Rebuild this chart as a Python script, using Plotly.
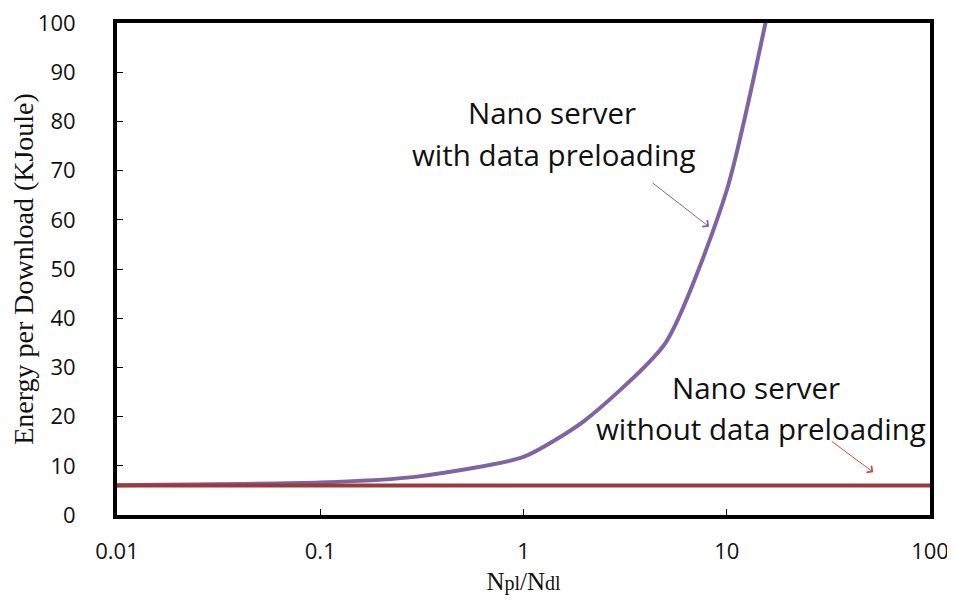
import plotly.graph_objects as go

# Data
ratio_with = [0.01, 0.1, 0.3, 1, 2, 5, 10, 20]
energy_with = [6.06, 6.6, 7.8, 11.8, 19.2, 35.0, 66.0, 122.0]
ratio_without = [0.01, 100]
energy_without = [6.0, 6.0]

x_ticks = [0.01, 0.1, 1, 10, 100]
x_ticktext = ["0.01", "0.1", "1", "10", "100"]
y_ticks = [0, 10, 20, 30, 40, 50, 60, 70, 80, 90, 100]

PURPLE = "#8064A2"
RED = "#9B3A3A"
SANS = "'Open Sans', 'Noto Sans', sans-serif"
SERIF = "'Liberation Serif', 'Times New Roman', serif"

fig = go.Figure()
fig.add_trace(go.Scatter(x=ratio_with, y=energy_with, mode="lines",
                         line=dict(color=PURPLE, width=4, shape="spline", smoothing=0.6),
                         showlegend=False, hoverinfo="skip"))
fig.add_trace(go.Scatter(x=ratio_without, y=energy_without, mode="lines",
                         line=dict(color=RED, width=4),
                         showlegend=False, hoverinfo="skip"))

# target plot-area edges on screen
L, R, T, B = 113, 930, 20, 515


def px_to_data(px, py):
    lx = (px - L) / ((R - L) / 4.0) - 2
    y = (B - py) / ((B - T) / 100.0)
    return lx, y


texts = [("Nano server", 550, 110), ("with data preloading", 552, 152),
         ("Nano server", 755, 387), ("without data preloading", 760, 428)]
for t, px, py in texts:
    lx, y = px_to_data(px, py)
    fig.add_annotation(x=lx, y=y, xref="x", yref="y", text=t, showarrow=False,
                       font=dict(family=SANS, size=29.5, color="#111111"))

arrows = [(708, 225, 650, 180, PURPLE), (873, 472, 830, 440, "#C0504D")]
for tx, ty, sx, sy, col in arrows:
    lx, y = px_to_data(tx, ty)
    fig.add_annotation(x=lx, y=y, xref="x", yref="y", text="", showarrow=True,
                       ax=sx - tx, ay=sy - ty, arrowhead=4, arrowsize=1.6,
                       arrowwidth=1, arrowcolor=col)

fig.update_layout(
    width=955, height=606,
    margin=dict(l=109, r=33, t=15, b=99),
    paper_bgcolor="white", plot_bgcolor="white",
    font=dict(family=SANS, size=22, color="#111111"),
)
fig.update_xaxes(type="log", range=[-2, 2], tickvals=x_ticks, ticktext=x_ticktext,
                 automargin=False, ticklabeloverflow="allow",
                 showgrid=False, zeroline=False, showline=True, linewidth=4,
                 linecolor="black", mirror=True, ticks="inside", ticklen=6,
                 tickwidth=1, tickcolor="black", ticklabelstandoff=14,
                 tickfont=dict(family=SANS, size=22, color="#111111"),
                 title=dict(text="N<span style='font-size:20px'>pl</span>/N<span style='font-size:20px'>dl</span>",
                            font=dict(family=SERIF, size=25, color="#111111"), standoff=9))
fig.update_yaxes(range=[0, 100], tickvals=y_ticks, automargin=False,
                 ticklabeloverflow="allow",
                 showgrid=False, zeroline=False, showline=True, linewidth=4,
                 linecolor="black", mirror=True, ticks="inside", ticklen=6,
                 tickwidth=1, tickcolor="black", ticklabelstandoff=33,
                 tickfont=dict(family=SANS, size=22, color="#111111"),
                 title=dict(text="Energy per Download (KJoule)",
                            font=dict(family=SERIF, size=28, color="#111111"), standoff=6))

fig.write_html("out.html")
